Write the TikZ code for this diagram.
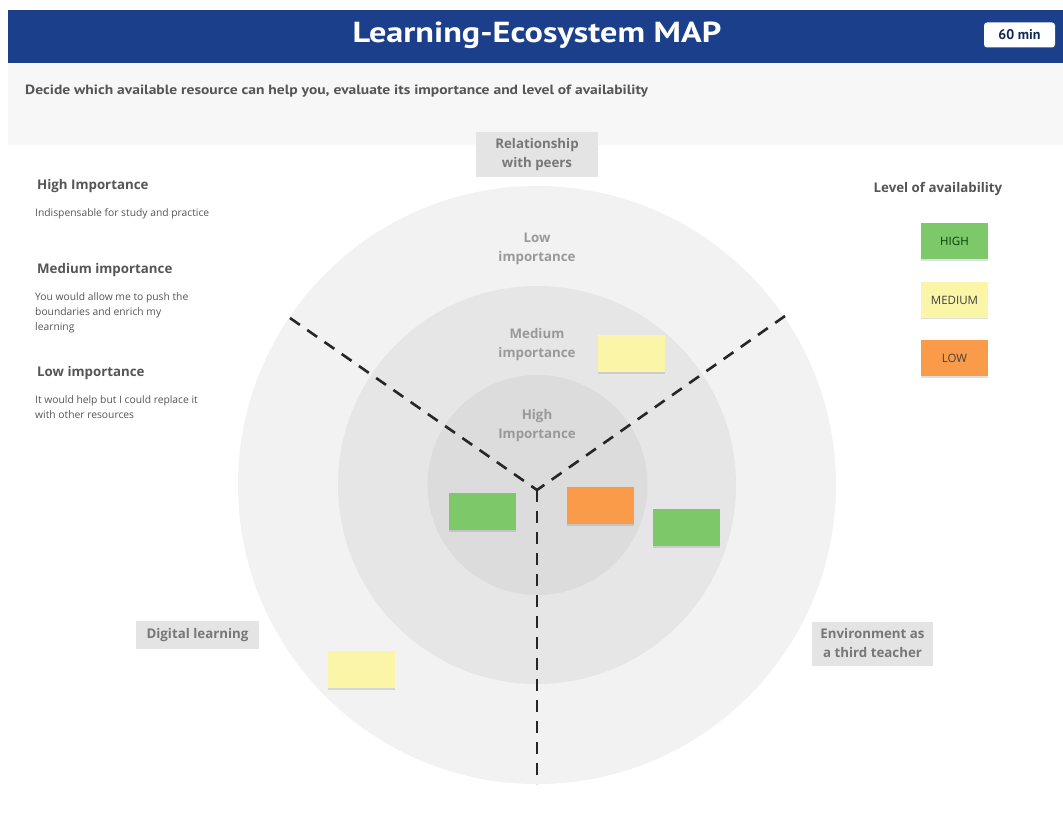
\documentclass[tikz,border=0pt]{standalone}
\usepackage{graphicx}
\usepackage{fontspec}
\setmainfont{Open Sans}
\newfontfamily\ptsans{PT Sans}
\usetikzlibrary{shadows}
\definecolor{hdrblue}{HTML}{1B3F8B}
\definecolor{bandgray}{HTML}{F7F7F7}
\definecolor{ringA}{HTML}{F2F2F2}
\definecolor{ringB}{HTML}{E6E6E6}
\definecolor{ringC}{HTML}{DCDCDC}
\definecolor{labelbox}{HTML}{E4E4E4}
\definecolor{txtdark}{HTML}{555555}
\definecolor{txtmid}{HTML}{777777}
\definecolor{txtlight}{HTML}{999999}
\definecolor{stgreen}{HTML}{7DC96A}
\definecolor{styellow}{HTML}{FBF5A8}
\definecolor{storange}{HTML}{F99B48}
\tikzset{
  sticky/.style={minimum width=67pt, minimum height=37pt, inner sep=0pt,
    drop shadow={opacity=0.25, shadow xshift=0pt, shadow yshift=-1.5pt}},
  legendbox/.style={sticky, minimum height=36pt, font=\fontsize{11.5}{12}\selectfont},
  catbox/.style={fill=labelbox, text=txtmid, font=\bfseries\fontsize{13.3}{19}\selectfont,
    align=center, inner xsep=6pt, inner ysep=3pt},
  ringlabel/.style={text=txtlight, font=\bfseries\fontsize{13.3}{19}\selectfont, align=center},
  heading/.style={text=txtdark, font=\bfseries\fontsize{13.3}{15}\selectfont, anchor=west, inner sep=0pt},
  small/.style={text=txtdark, font=\fontsize{10.3}{15}\selectfont, anchor=north west, align=left, inner sep=0pt},
  divider/.style={line width=2.6pt, dash pattern=on 12pt off 9pt, black!85}
}
\begin{document}
\begin{tikzpicture}[x=1pt,y=-1pt]
\useasboundingbox (0,0) rectangle (1063,818);
\fill[white] (0,0) rectangle (1063,818);
% header
\fill[hdrblue] (8,10) rectangle (1063,63);
\node[text=white, font=\ptsans\bfseries\fontsize{29}{34}\selectfont] (title) at (537,35) {\scalebox{1.18}[1]{Learning-Ecosystem MAP}};
\node[fill=white, rounded corners=3pt, minimum width=71pt, minimum height=25pt, inner sep=0pt,
  text=hdrblue!60!black, font=\ptsans\bfseries\fontsize{14}{16}\selectfont] (time) at (1019.5,35) {60 min};
% band
\fill[bandgray] (8,63) rectangle (1063,145);
\node[text=txtdark, anchor=west, inner sep=0pt, font=\ptsans\bfseries\fontsize{13.4}{16}\selectfont] (intro) at (25,91)
  {\scalebox{1.16}[1]{Decide which available resource can help you, evaluate its importance and level of availability}};
% rings
\fill[ringA] (537,485) circle[radius=299pt];
\fill[ringB] (537,485) circle[radius=199pt];
\fill[ringC] (537.5,485) circle[radius=110pt];
% dividers
\coordinate (c) at (537,490);
\coordinate (ul) at (290,318);
\coordinate (ur) at (785,316);
\coordinate (dn) at (537,784);
\draw[divider] (ul) -- (c);
\draw[divider] (ur) -- (c);
\draw[divider] (c) -- (dn);
% ring labels
\node[ringlabel] (low) at (537,249) {Low\\importance};
\node[ringlabel] (med) at (537,345) {Medium\\importance};
\node[ringlabel] (high) at (537,426) {High\\Importance};
% category boxes
\node[catbox, minimum width=122pt, minimum height=45pt] (peers) at (537,155) {Relationship\\with peers};
\node[catbox, minimum width=123pt, minimum height=28pt] (digital) at (197.5,635) {Digital learning};
\node[catbox, minimum width=121pt, minimum height=44pt] (env) at (872.5,643.5) {Environment as\\a third teacher};
% left legend
\node[heading] (h1) at (37,186) {High Importance};
\node[small] (t1) at (35,208) {Indispensable for study and practice};
\node[heading] (h2) at (37,270) {Medium importance};
\node[small] (t2) at (35,292) {You would allow me to push the\\boundaries and enrich my\\learning};
\node[heading] (h3) at (37,373) {Low importance};
\node[small] (t3) at (35,395) {It would help but I could replace it\\with other resources};
% right legend
\node[text=txtdark, font=\bfseries\fontsize{13.3}{15}\selectfont] (lvl) at (938,189) {Level of availability};
\node[legendbox, fill=stgreen, text=green!25!black] (lhigh) at (954.5,241.5) {HIGH};
\node[legendbox, fill=styellow, text=black!75] (lmed) at (954.5,300) {MEDIUM};
\node[legendbox, fill=storange, text=black!75] (llow) at (954.5,358) {LOW};
% stickies
\node[sticky, fill=styellow] (s1) at (631.5,353.5) {};
\node[sticky, fill=stgreen] (s2) at (482.5,511.5) {};
\node[sticky, fill=storange] (s3) at (600.5,505.5) {};
\node[sticky, fill=stgreen] (s4) at (686.5,527.5) {};
\node[sticky, fill=styellow] (s5) at (361.5,669.5) {};
\end{tikzpicture}
\end{document}
